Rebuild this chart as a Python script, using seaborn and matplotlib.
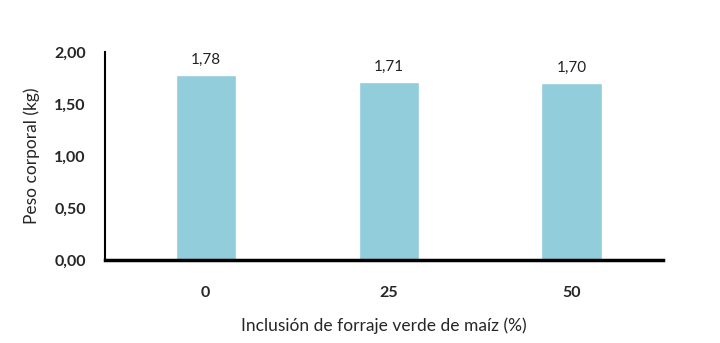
import numpy as np
import pandas as pd
import seaborn as sns
import matplotlib.pyplot as plt

# Datos
inclusion = ["0", "25", "50"]
peso = [1.78, 1.71, 1.70]
y_ticks = [0.0, 0.5, 1.0, 1.5, 2.0]

data = pd.DataFrame({"inclusion": inclusion, "peso": peso})

sns.set_style("white")
plt.rcParams['font.family'] = ['Lato', 'DejaVu Sans']

fig = plt.figure(figsize=(7.2, 3.43), dpi=100)
ax = fig.add_axes([0.146, 0.242, 0.775, 0.606])

sns.barplot(x="inclusion", y="peso", data=data, color="#92CDDC", width=0.33,
            saturation=1, ax=ax)

for i, v in enumerate(peso):
    ax.text(i, v + 0.08, "{:.2f}".format(v).replace(".", ","), ha="center",
            va="bottom", fontsize=11, color="#222222")

ax.set_xlim(-0.55, 2.5)
ax.set_ylim(0, 2.0)
ax.set_yticks(y_ticks)
ax.set_yticklabels(["{:.2f}".format(t).replace(".", ",") for t in y_ticks],
                   fontsize=11.5, fontweight="bold")
ax.set_xticks(range(len(inclusion)))
ax.set_xticklabels(inclusion, fontsize=11.5, fontweight="bold")
ax.tick_params(axis="x", length=0, pad=19)
ax.tick_params(axis="y", length=0, pad=14)

for s in ["top", "right"]:
    ax.spines[s].set_visible(False)
ax.spines["left"].set_linewidth(1.5)
ax.spines["left"].set_color("black")
ax.spines["bottom"].set_linewidth(2.5)
ax.spines["bottom"].set_color("black")

ax.set_ylabel("Peso corporal (kg)", fontsize=12.5, labelpad=10)
ax.set_xlabel("Inclusión de forraje verde de maíz (%)", fontsize=12.5, labelpad=12)

fig.savefig("out.png", dpi=100)
